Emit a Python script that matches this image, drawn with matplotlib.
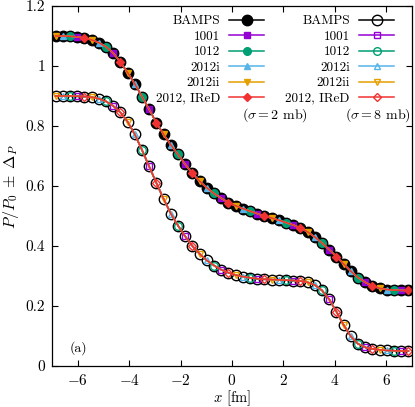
import numpy as np
import matplotlib
matplotlib.use("Agg")
import matplotlib.pyplot as plt
from matplotlib.ticker import FuncFormatter, MultipleLocator

plt.rcParams['font.family'] = 'serif'
plt.rcParams['font.serif'] = ['cmr10']
plt.rcParams['mathtext.fontset'] = 'cm'
plt.rcParams['axes.formatter.use_mathtext'] = True
plt.rcParams['font.size'] = 10

# x grid of the curves [fm]
x = np.linspace(-6.86, 6.86, 50)

# sigma = 2 mb  (upper curve)
p_2mb = [1.100, 1.100, 1.099, 1.097, 1.093, 1.087, 1.078, 1.064, 1.043, 1.013,
         0.978, 0.940, 0.898, 0.855, 0.811, 0.772, 0.737, 0.705, 0.672, 0.642,
         0.616, 0.594, 0.575, 0.559, 0.545, 0.534, 0.525, 0.516, 0.508, 0.500,
         0.493, 0.486, 0.478, 0.470, 0.460, 0.447, 0.430, 0.410, 0.388, 0.365,
         0.340, 0.316, 0.295, 0.279, 0.267, 0.259, 0.255, 0.253, 0.252, 0.252]

# sigma = 8 mb  (lower curve)
p_8mb = [0.900, 0.900, 0.900, 0.899, 0.898, 0.896, 0.891, 0.882, 0.867, 0.845,
         0.814, 0.772, 0.720, 0.665, 0.610, 0.557, 0.508, 0.468, 0.432, 0.400,
         0.374, 0.352, 0.335, 0.321, 0.311, 0.303, 0.298, 0.294, 0.291, 0.289,
         0.288, 0.287, 0.286, 0.285, 0.283, 0.279, 0.270, 0.252, 0.222, 0.181,
         0.137, 0.099, 0.074, 0.062, 0.057, 0.054, 0.052, 0.051, 0.050, 0.050]

names = ["BAMPS", "1001", "1012", "2012i", "2012ii", "2012, IReD"]
colors = ["black", "#9400d3", "#009e73", "#56b4e9", "#e69f00", "#f03232"]
markers = ["o", "s", "o", "^", "v", "D"]
msizes = [7.5, 5.0, 5.5, 5.0, 5.0, 4.2]
every = [1, (3, 5), (2, 5), (1, 5), (0, 5), (4, 5)]

fig = plt.figure(figsize=(4.15, 4.07), dpi=100)
ax = fig.add_axes([0.1253, 0.1007, 0.8675, 0.8846])

h2 = []
h8 = []
for nm, c, m, ms, ev in zip(names, colors, markers, msizes, every):
    l2, = ax.plot(x, p_2mb, color=c, lw=1.1, marker=m, ms=ms, mfc=c, mec=c,
                  mew=1.0, markevery=ev, label=nm)
    l8, = ax.plot(x, p_8mb, color=c, lw=1.1, marker=m, ms=ms, mfc='none', mec=c,
                  mew=1.0, markevery=ev, label=nm)
    h2.append(l2)
    h8.append(l8)

ax.set_xlim(-7, 7)
ax.set_ylim(0, 1.2)
ax.xaxis.set_major_locator(MultipleLocator(2))
ax.yaxis.set_major_locator(MultipleLocator(0.2))
ax.xaxis.set_major_formatter(FuncFormatter(lambda v, p: "$%g$" % round(v, 6)))
ax.yaxis.set_major_formatter(FuncFormatter(lambda v, p: "%g" % round(v, 6)))
ax.tick_params(direction='in', top=True, right=True, length=4, width=0.8,
               pad=5, labelsize=11)
for s in ax.spines.values():
    s.set_linewidth(0.9)

ax.set_xlabel(r"$x$ [fm]", labelpad=0, fontsize=10.5)
ax.set_ylabel(r"$P/P_0\;\pm\;\Delta_P$", labelpad=3, fontsize=11.5)

leg1 = ax.legend(handles=h2, loc='upper right', bbox_to_anchor=(0.59, 0.975),
                 frameon=False, markerfirst=False, handlelength=2.65, fontsize=9.5,
                 handletextpad=0.7, labelspacing=0.25, borderpad=0, borderaxespad=0)
ax.add_artist(leg1)
leg2 = ax.legend(handles=h8, loc='upper right', bbox_to_anchor=(0.95, 0.975),
                 frameon=False, markerfirst=False, handlelength=2.65, fontsize=9.5,
                 handletextpad=0.7, labelspacing=0.25, borderpad=0, borderaxespad=0)

ax.text(0.62, 0.697, r"$(\sigma = 2$ mb$)$", transform=ax.transAxes, ha='center', va='center')
ax.text(0.905, 0.697, r"$(\sigma = 8$ mb$)$", transform=ax.transAxes, ha='center', va='center')
ax.text(0.05, 0.05, "(a)", transform=ax.transAxes, ha='left', va='center')

fig.savefig("out.png", dpi=100)
